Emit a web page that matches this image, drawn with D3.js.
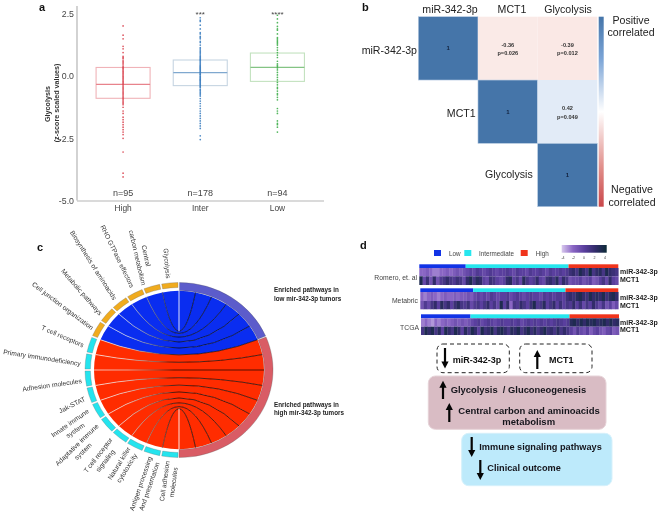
<!DOCTYPE html>
<html><head><meta charset="utf-8">
<script src="https://cdn.jsdelivr.net/npm/d3@7/dist/d3.min.js"></script>
<style>html,body{margin:0;padding:0;background:#fff}svg{display:block;font-family:"Liberation Sans",Arial,sans-serif;filter:blur(0.35px)}</style>
</head><body><svg id="c" width="662" height="517"></svg>
<script>
// ---- panel a
const groups=["High","Inter","Low"];
const counts=["n=95","n=178","n=94"];
const signif=["","***","****"];
const yTicks=[2.5,0,-2.5,-5];
const q1=[-0.89,-0.38,-0.21];
const medians=[-0.33,0.14,0.35];
const q3=[0.35,0.65,0.93];
const highPts=[2.02,1.65,1.5,1.2,1.1,0.95,0.8,0.75,0.72,0.65,0.6,0.55,0.5,0.45,0.38,0.34,0.3,0.25,0.2,0.15,0.1,0.05,0,-0.05,-0.1,-0.15,-0.2,-0.25,-0.3,-0.35,-0.4,-0.45,-0.5,-0.55,-0.6,-0.65,-0.7,-0.75,-0.8,-0.85,-0.9,-0.95,-1.0,-1.05,-1.1,-1.15,-1.25,-1.4,-1.5,-1.65,-1.75,-1.85,-1.95,-2.05,-2.15,-2.25,-2.35,-2.5,-3.05,-3.9,-4.05];
const interPts=[2.35,2.25,2.2,2.05,1.9,1.75,1.7,1.6,1.55,1.5,1.4,1.35,1.25,1.15,1.1,1.05,1.0,0.95,0.9,0.85,0.8,0.76,0.72,0.68,0.65,0.62,0.58,0.54,0.5,0.46,0.42,0.38,0.35,0.31,0.28,0.24,0.2,0.16,0.12,0.08,0.05,0,-0.04,-0.08,-0.12,-0.15,-0.18,-0.22,-0.26,-0.3,-0.34,-0.38,-0.42,-0.45,-0.52,-0.56,-0.6,-0.65,-0.7,-0.75,-0.8,-0.9,-1.0,-1.1,-1.2,-1.3,-1.4,-1.5,-1.6,-1.7,-1.8,-1.9,-2.0,-2.1,-2.4,-2.55];
const lowPts=[2.45,2.3,2.15,2.0,1.9,1.85,1.7,1.55,1.5,1.45,1.4,1.35,1.3,1.25,1.15,1.05,0.95,0.85,0.75,0.6,0.5,0.45,0.4,0.33,0.25,0.15,0.05,-0.05,-0.15,-0.25,-0.35,-0.45,-0.5,-0.6,-0.7,-0.75,-0.85,-0.95,-1.3,-1.4,-1.5,-1.8,-1.9,-1.95,-2.05,-2.25];
const groupPts=[highPts,interPts,lowPts];
const boxStroke=["#f0b3b8","#c6d5e2","#c3e2bf"];
const medStroke=["#e8838c","#7fa8cf","#84c484"];
const ptFill=["#d9404c","#3b7dbf","#3fae4b"];
// ---- panel b
const vars=["miR-342-3p","MCT1","Glycolysis"];
const corr=[[1,-0.36,-0.39],[null,1,0.42],[null,null,1]];
const pvals=[[null,"p=0.026","p=0.012"],[null,null,"p=0.049"],[null,null,null]];
// ---- panel c
const pathways=[["Glycolysis"],["Central","carbon metabolism"],["RHO GTPase effectors"],["Biosynthesis of aminoacids"],["Metabolic pathways"],["Cell junction organization"],["T cell receptors"],["Primary immunodeficiency"],["Adhesion molecules"],["Jak-STAT"],["Innate immune","system"],["Adaptative immune","system"],["T cell receptor","signaling"],["Natural killer","cytotoxicity"],["Antigen processing","And presentation"],["Cell adhesion","molecules"]];
const lowCount=6;
// ---- panel d
const cohortNames=["Romero, et. al","Metabric","TCGA"];
const classNames=["Low","Intermediate","High"];
const scaleTicks=[-4,-2,0,2,4];
const romeroClasses=[14,31,15];
const metabricClasses=[16,28,16];
const tcgaClasses=[15,30,15];
const romeroMir=[-2,-2,-1.5,-2,-2.5,-2.5,-2,-2,-1.5,-2,-1.5,-1,-1.5,-1,-0.5,0,-0.5,0.5,0,-0.5,0,0.5,0,-0.5,0,0,0.5,0,-0.5,0.5,0,0,-0.5,0.5,0,0,0.5,0,-0.5,0.5,0,0,0.5,0,0.5,1.5,2,1,3,2,1,3.5,1,2,2.5,1,3,2,1.5,1];
const romeroMct=[3,-0.5,1.5,-1,2,-1,0.5,1,2,1,0.5,1.5,1,-0.5,2,3,1,2.5,2,0,-0.5,1.5,1,0,-0.5,0,2,2.5,0,1,-0.5,2.5,1,0,0.5,2,0,-0.5,1.5,2,1,2.5,0,2,1,-1,-0.5,-0.5,0,-1,-0.5,0,-1.5,-1,0,1,-0.5,2,0,-0.5];
const metabricMir=[-2,-2.5,-2,-1.5,-2,-2.5,-2,-1.5,-2,-2,-1.5,-2,-1.5,-1.5,-1,-1.5,-0.5,0,-0.5,0,-0.5,0.5,0,-0.5,0,0,0.5,-0.5,0,0.5,0,-0.5,0,0.5,0,0,-0.5,0.5,0,0.5,0,0.5,0.5,0,1.5,2,1.5,2.5,3,2,1.5,3,2,2.5,2,3,1.5,2.5,3,2];
const metabricMct=[-1,0.5,-0.5,1,2,0,2.5,1,2,0,1.5,2.5,1,0.5,1.5,-0.5,0.5,1,0,1,2,0,1,-0.5,3,0,2,-2,1,0.5,2,1,0,1.5,3,0.5,1,2.5,0,1,2,0,1.5,0,1,0.5,2,0,1.5,-0.5,1,0,2,0.5,-0.5,1,-1,0,-1.5,-0.5];
const tcgaMir=[-2.5,-2,-2.5,-3,-2,-2.5,-2,-1.5,-2,-1.5,-1,-1.5,-1,-1.5,-1,-0.5,0,0.5,-0.5,0,0.5,0,-0.5,0,0.5,0,0,0.5,0,0.5,-0.5,0,0.5,0,0.5,0,0.5,0,0.5,0,0.5,1,0.5,0,0.5,2.5,3,2,3,2,3,2.5,3,2,2.5,3,2,3,2,2.5];
const tcgaMct=[1,3,2,3,1,2.5,0,3,2,1,3,2,0,2.5,1,3,2,0,3,1.5,2,3,1,2.5,3,2,1,2.5,2,3,1,2,3,1.5,2.5,1,2,3,1.5,2,1,2.5,1,2,1,0,-1,0.5,-0.5,-1,0,-1.5,-0.5,0,-1,-1.5,-0.5,0,-1.5,-1];

const svg=d3.select("#c");
const TXT="#3a3a3a";
function label(s,x,y,t,o={}){return s.append("text").attr("x",x).attr("y",y).attr("fill",o.fill||TXT).attr("font-size",o.size||8).attr("font-weight",o.bold?"bold":null).attr("text-anchor",o.anchor||"start").text(t);}
function arrow(x,y0,y1){ // y0 tail, y1 tip
  const dir=y1>y0?1:-1,g=svg.append("g");
  g.append("line").attr("x1",x).attr("x2",x).attr("y1",y0).attr("y2",y1-dir*5).attr("stroke","#050505").attr("stroke-width",2.2);
  g.append("path").attr("d",d3.line()([[x-3.6,y1-dir*7],[x+3.6,y1-dir*7],[x,y1]])+"Z").attr("fill","#050505");
}
[["a",39,11],["b",362,11],["c",37,251],["d",360,249]].forEach(d=>label(svg,d[1],d[2],d[0],{bold:true,size:11,fill:"#111"}));

// panel a
(function(){
  const y=d3.scaleLinear().domain([-5,2.5]).range([200.5,14]);
  const x=d3.scaleBand().domain(groups).range([84.5,316]).paddingInner(0.3).paddingOuter(0.15);
  const g=svg.append("g");
  const ay=g.append("g").attr("transform","translate(77,0)").call(d3.axisLeft(y).tickValues(yTicks).tickFormat(v=>v.toFixed(1)).tickSize(0).tickPadding(3));
  ay.select(".domain").attr("d","M0,6V200.5").attr("stroke","#b5b5b5").attr("stroke-width",1.2);
  ay.selectAll("text").attr("font-size",8.8).attr("font-family",null).attr("fill","#444");
  const ax=g.append("g").attr("transform","translate(0,201)").call(d3.axisBottom(x).tickSize(0).tickPadding(4));
  ax.select(".domain").attr("d","M77,0H324").attr("stroke","#b5b5b5").attr("stroke-width",1.2);
  ax.selectAll("text").attr("font-size",8.4).attr("font-family",null).attr("fill","#444");
  groups.forEach((k,i)=>{
    const cx=x(k)+x.bandwidth()/2,bw=x.bandwidth();
    g.append("rect").attr("x",x(k)).attr("width",bw).attr("y",y(q3[i])).attr("height",y(q1[i])-y(q3[i])).attr("fill","none").attr("stroke",boxStroke[i]).attr("stroke-width",1.1);
    g.append("line").attr("x1",x(k)).attr("x2",x(k)+bw).attr("y1",y(medians[i])).attr("y2",y(medians[i])).attr("stroke",medStroke[i]).attr("stroke-width",1.2);
    g.selectAll(null).data(groupPts[i]).join("circle").attr("cx",cx).attr("cy",d=>y(d)).attr("r",0.85).attr("fill",ptFill[i]).attr("opacity",.9);
    label(g,cx,196,counts[i],{anchor:"middle",size:9,fill:"#444"});
    if(signif[i])label(g,cx,16.5,signif[i],{anchor:"middle",size:8,fill:"#444"});
  });
  g.append("text").attr("transform","translate(49.5,104) rotate(-90)").attr("text-anchor","middle").attr("font-size",7.2).attr("font-weight","bold").attr("fill","#333").text("Glycolysis");
  g.append("text").attr("transform","translate(59,103) rotate(-90)").attr("text-anchor","middle").attr("font-size",7.2).attr("font-weight","bold").attr("fill","#333").text("(z-score scaled values)");
})();

// panel b
(function(){
  const x=d3.scaleBand().domain(vars).range([418.3,597.3]);
  const y=d3.scaleBand().domain(vars).range([16.7,206.7]);
  const col=d3.scaleLinear().domain([-1,-0.5,0,0.5,1]).range(["#c9474a","#f8e2de","#ffffff","#dce7f5","#4575a9"]).clamp(true);
  const g=svg.append("g");
  const cells=[];
  corr.forEach((r,i)=>r.forEach((v,j)=>{if(v!==null)cells.push({i,j,v,p:pvals[i][j]});}));
  g.selectAll(null).data(cells).join("rect").attr("x",d=>x(vars[d.j])).attr("y",d=>y(vars[d.i])).attr("width",x.bandwidth()).attr("height",y.bandwidth()).attr("fill",d=>col(d.v)).attr("stroke",d=>d.v===1?"#b9cde3":"none").attr("stroke-width",.6);
  cells.forEach(d=>{
    const cx=x(vars[d.j])+x.bandwidth()/2,cy=y(vars[d.i])+y.bandwidth()/2;
    if(d.v===1){label(g,cx,cy+2,"1",{anchor:"middle",size:6,bold:true,fill:"#12213d"});}
    else{label(g,cx,cy-1.5,d.v.toFixed(2),{anchor:"middle",size:5.6,bold:true,fill:"#333"});label(g,cx,cy+7,d.p,{anchor:"middle",size:5.6,bold:true,fill:"#333"});}
  });
  const pos=[[450,13],[512,13],[568,13]];
  vars.forEach((v,i)=>label(g,pos[i][0],pos[i][1],v,{anchor:"middle",size:10.6,fill:"#222"}));
  const left=[[417,54],[475.7,117],[532.7,178]];
  vars.forEach((v,i)=>label(g,left[i][0],left[i][1],v,{anchor:"end",size:10.6,fill:"#222"}));
  const defs=svg.append("defs");
  const lg=defs.append("linearGradient").attr("id","cb").attr("x1",0).attr("x2",0).attr("y1",0).attr("y2",1);
  [[0,"#4575a9"],[.22,"#7ba4d6"],[.5,"#ffffff"],[.8,"#e08c88"],[1,"#c9474a"]].forEach(s=>lg.append("stop").attr("offset",s[0]).attr("stop-color",s[1]));
  g.append("rect").attr("x",598.7).attr("y",16.7).attr("width",5).attr("height",190).attr("fill","url(#cb)");
  [["Positive",631,24],["correlated",631,36],["Negative",632,193],["correlated",632,206]].forEach(d=>label(g,d[1],d[2],d[0],{anchor:"middle",size:10.6,fill:"#222"}));
})();

// panel c
(function(){
  const n=pathways.length,step=Math.PI/n,rib=85;
  const g=svg.append("g").attr("transform","translate(179,370) scale(1,0.931)");
  const grad=svg.select("defs").append("linearGradient").attr("id","lk").attr("gradientUnits","userSpaceOnUse").attr("x1",-85).attr("x2",85).attr("y1",0).attr("y2",0);
  [[0,"#ffffff"],[.2,"#dddddd"],[.38,"#555555"],[.47,"#000000"],[1,"#000000"]].forEach(s=>grad.append("stop").attr("offset",s[0]).attr("stop-color",s[1]));
  const ribbon=d3.ribbon().radius(rib);
  const idx=d3.range(n);
  g.selectAll(null).data(idx).join("path")
    .attr("d",k=>ribbon({source:{startAngle:-(k+1)*step,endAngle:-k*step},target:{startAngle:k*step,endAngle:(k+1)*step}}))
    .attr("fill",k=>k<lowCount?"#0a2df0":"#ff2c00");
  d3.range(1,n).forEach(k=>{
    const a=k*step,p=d3.path();
    p.moveTo(-rib*Math.sin(a),-rib*Math.cos(a));
    p.quadraticCurveTo(0,0,rib*Math.sin(a),-rib*Math.cos(a));
    g.append("path").attr("d",p.toString()).attr("fill","none").attr("stroke","url(#lk)").attr("stroke-width",.7);
  });
  const cap=rib*Math.cos(step)/2;
  g.append("line").attr("x1",0).attr("x2",0).attr("y1",-rib-9).attr("y2",-cap).attr("stroke","#fff").attr("stroke-width",.9);
  g.append("line").attr("x1",0).attr("x2",0).attr("y1",rib+9).attr("y2",cap).attr("stroke","#fff").attr("stroke-width",.9);
  const pad=0.011;
  const arcL=d3.arc().innerRadius(88.6).outerRadius(94);
  g.selectAll(null).data(idx).join("path")
    .attr("d",k=>arcL({startAngle:-(k+1)*step+pad,endAngle:-k*step-pad}))
    .attr("fill",k=>k<lowCount?"#f0ab1e":"#24e4ee").attr("stroke","#666").attr("stroke-width",.3);
  const arcR=d3.arc().innerRadius(85.4).outerRadius(94);
  g.append("path").attr("d",arcR({startAngle:0.006,endAngle:lowCount*step-0.006})).attr("fill","#5c5ccb").attr("stroke","#555").attr("stroke-width",.3);
  g.append("path").attr("d",arcR({startAngle:lowCount*step+0.006,endAngle:Math.PI})).attr("fill","#d95c65").attr("stroke","#555").attr("stroke-width",.3);
  const place=[[167,263.3,85],[141.7,256.7,77],[117.3,256.3,64],[93.3,265.3,57.5],[81.7,292,49],[62.7,306,37],[62.7,336.3,23.5],[42,357.7,8.9],[52,385,-8],[72,405,-27],[72.7,426.7,-35],[80,448,-44],[101.7,458,-52],[123,465.7,-58],[145,485,-71],[169,481.7,-82]];
  pathways.forEach((lines,i)=>{
    const t=svg.append("text").attr("transform",`translate(${place[i][0]},${place[i][1]}) rotate(${place[i][2]})`).attr("text-anchor","middle").attr("font-size",6.7).attr("fill","#333");
    const y0=lines.length===1?2.3:-2.2;
    lines.forEach((s,j)=>t.append("tspan").attr("x",0).attr("y",y0+j*9).text(s));
  });
  [["Enriched pathways in",274,292],["low mir-342-3p tumors",274,300.5],["Enriched pathways in",274,407],["high mir-342-3p tumors",274,415]].forEach(d=>label(svg,d[1],d[2],d[0],{bold:true,size:6.3,fill:"#222"}));
})();

// panel d
(function(){
  const classCol=["#1133e6","#26e6ee","#f0341c"];
  const col=d3.scaleLinear().domain(scaleTicks).range(["#d8c8ee","#8a66c4","#5a3f9e","#322c6a","#0c2a36"]).clamp(true);
  const g=svg.append("g");
  const legend=[[434,449],[464.3,479],[520.7,535.7]];
  classNames.forEach((c,i)=>{
    g.append("rect").attr("x",legend[i][0]).attr("y",250).attr("width",7).attr("height",6).attr("fill",classCol[i]);
    label(g,legend[i][1],256,c,{size:6.3,fill:"#444"});
  });
  const lg=svg.select("defs").append("linearGradient").attr("id","hm");
  scaleTicks.forEach((t,i)=>lg.append("stop").attr("offset",i/4).attr("stop-color",col(t)));
  const cbx=d3.scaleLinear().domain([-4,4]).range([563,605]);
  g.append("rect").attr("x",561.7).attr("y",245).attr("width",45).attr("height",7.7).attr("fill","url(#hm)");
  scaleTicks.forEach(t=>label(g,cbx(t),259,String(t),{anchor:"middle",size:3.6,fill:"#444"}));
  const cohorts=[
    {cl:romeroClasses,a:romeroMir,b:romeroMct,x0:419.3,x1:618.3,y:[264.3,268,276.3,285],ly:280,r:[274,282]},
    {cl:metabricClasses,a:metabricMir,b:metabricMct,x0:420.3,x1:618.3,y:[288.3,292,301,309.3],ly:303,r:[300,307.5]},
    {cl:tcgaClasses,a:tcgaMir,b:tcgaMct,x0:421,x1:619,y:[314.3,318.3,326.7,335],ly:329.5,r:[324.5,332]}];
  cohorts.forEach((c,ci)=>{
    const x=d3.scaleBand().domain(d3.range(c.a.length)).range([c.x0,c.x1]);
    let s=0;
    c.cl.forEach((m,i)=>{
      g.append("rect").attr("x",x(s)).attr("width",x.bandwidth()*m).attr("y",c.y[0]).attr("height",c.y[1]-c.y[0]).attr("fill",classCol[i]);
      s+=m;
    });
    [c.a,c.b].forEach((row,ri)=>{
      g.selectAll(null).data(row).join("rect").attr("x",(d,i)=>x(i)).attr("width",x.bandwidth()+.3).attr("y",c.y[ri+1]).attr("height",c.y[ri+2]-c.y[ri+1]).attr("fill",d=>col(d));
    });
    label(g,[417,418,419][ci],c.ly,cohortNames[ci],{anchor:"end",size:6.8,fill:"#444"});
    label(g,620,c.r[0],"miR-342-3p",{bold:true,size:7,fill:"#222"});
    label(g,620,c.r[1],"MCT1",{bold:true,size:7,fill:"#222"});
  });
  [[437,72.3],[519.7,72.3]].forEach(b=>g.append("rect").attr("x",b[0]).attr("y",344).attr("width",b[1]).attr("height",28.7).attr("rx",6).attr("fill","none").attr("stroke","#222").attr("stroke-width",1).attr("stroke-dasharray","4 3"));
  label(g,452.7,362.5,"miR-342-3p",{bold:true,size:9,fill:"#111"});
  label(g,549,363,"MCT1",{bold:true,size:9,fill:"#111"});
  arrow(445,348,368.5);arrow(537.3,369,350);
  g.append("rect").attr("x",428.3).attr("y",376).attr("width",177.7).attr("height",53.3).attr("rx",7).attr("fill","#d9bcc4").attr("stroke","#e6d3d8").attr("stroke-width",1);
  g.append("rect").attr("x",461.7).attr("y",433.3).attr("width",150.3).attr("height",52.4).attr("rx",7).attr("fill","#bdeafb").attr("stroke","#d6f1fb").attr("stroke-width",1);
  label(g,450.7,392.7,"Glycolysis  / Gluconeogenesis",{bold:true,size:9.4,fill:"#15151c"}).attr("xml:space","preserve");
  label(g,458.3,414,"Central carbon and aminoacids",{bold:true,size:9.5,fill:"#15151c"});
  label(g,528.7,424.5,"metabolism",{bold:true,size:9.5,anchor:"middle",fill:"#15151c"});
  label(g,479.3,449.5,"Immune signaling pathways",{bold:true,size:9.2,fill:"#15151c"});
  label(g,487.3,471,"Clinical outcome",{bold:true,size:9.2,fill:"#15151c"});
  arrow(443,399,380.7);arrow(449.3,422,403);arrow(471.7,437,457);arrow(480.3,460,480);
})();
</script></body></html>
